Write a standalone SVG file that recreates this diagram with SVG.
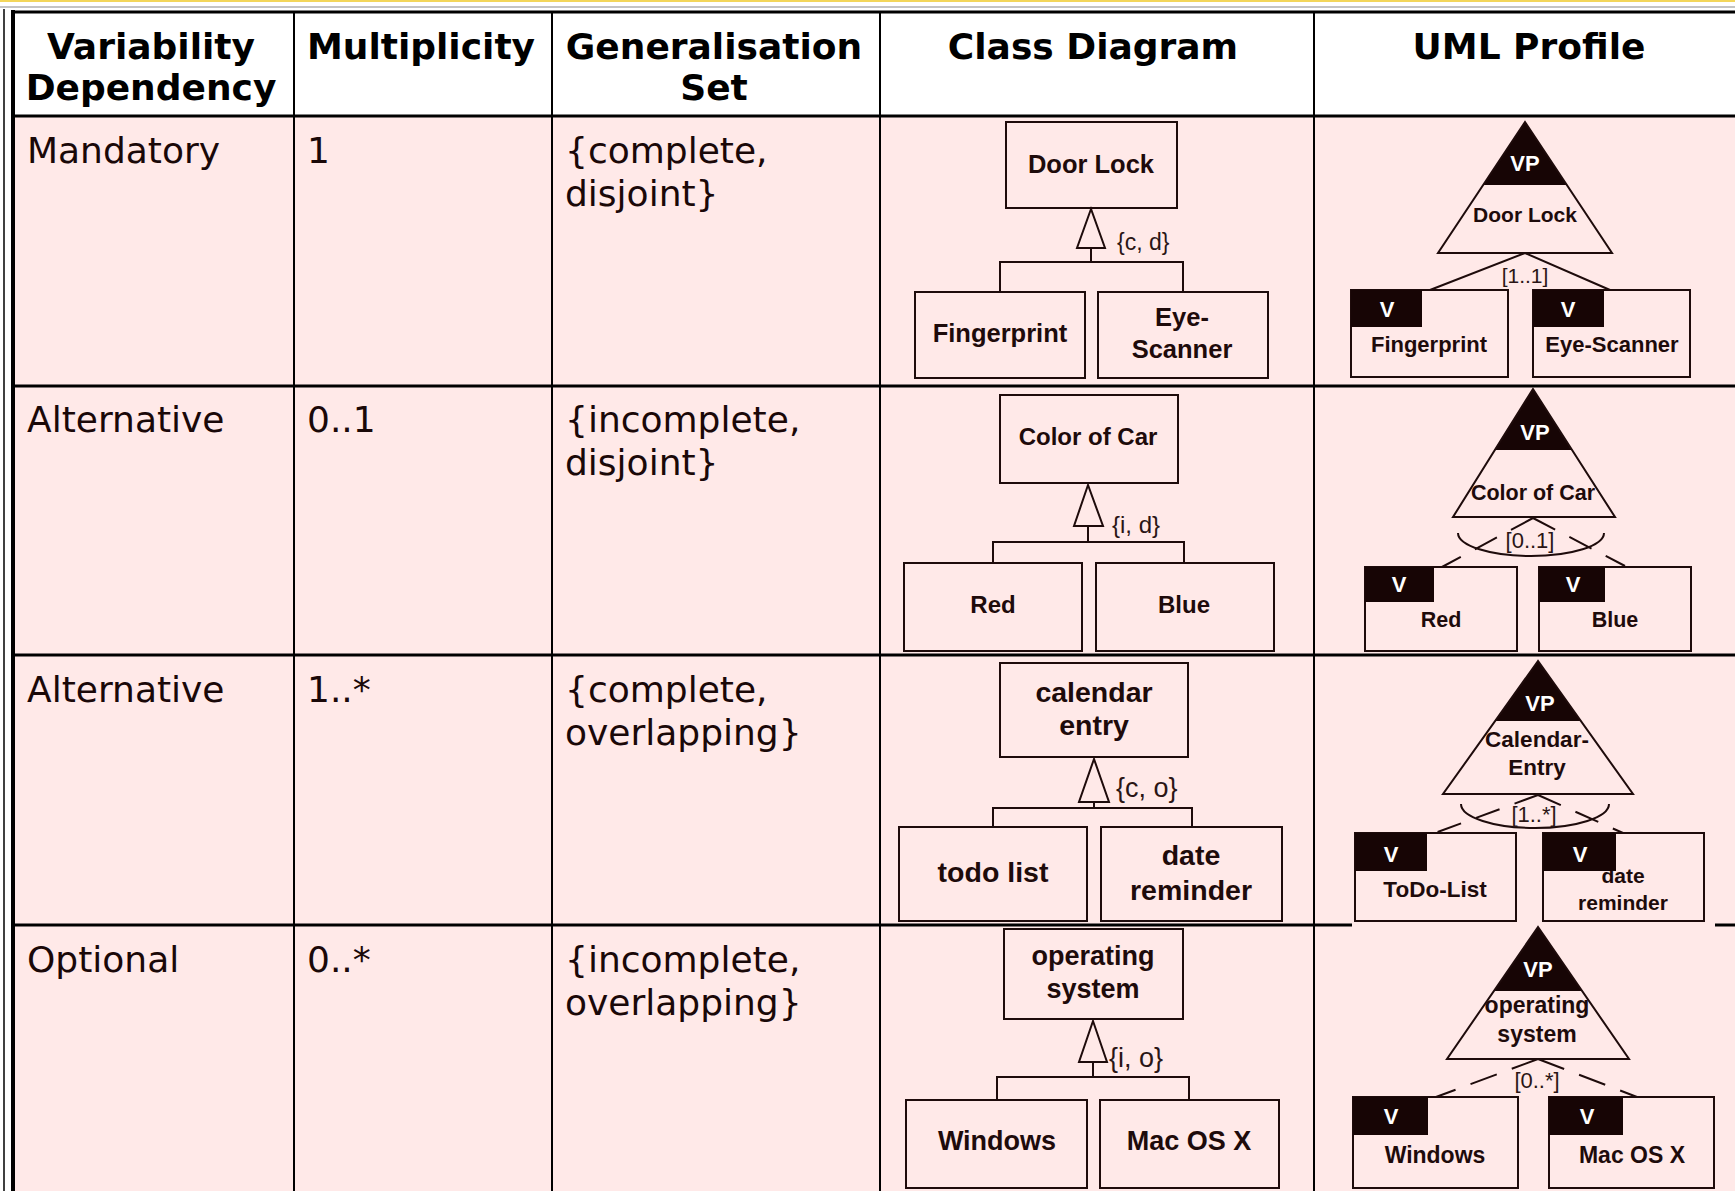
<svg xmlns="http://www.w3.org/2000/svg" width="1735" height="1191" viewBox="0 0 1735 1191">
  <style>
    .hd { font-family: "DejaVu Sans", Verdana, sans-serif; font-weight: bold; font-size: 36px; fill: #000; text-anchor: middle; }
    .bd { font-family: "DejaVu Sans", Verdana, sans-serif; font-size: 36px; fill: #1a0808; }
    .grid { stroke: #000; fill: none; }
    .box { fill: none; stroke: #1e0b0b; stroke-width: 2; }
    .ln { fill: none; stroke: #1e0b0b; stroke-width: 2; }
    .dash { fill: none; stroke: #1e0b0b; stroke-width: 2; stroke-dasharray: 25 16; }
    .cls { font-family: "Liberation Sans", Arial, sans-serif; font-weight: bold; fill: #1e0b0b; text-anchor: middle; }
    .lbl { font-family: "Liberation Sans", Arial, sans-serif; fill: #2a1515; }
    .tab { fill: #170505; }
    .wt { font-family: "Liberation Sans", Arial, sans-serif; font-weight: bold; fill: #fff; text-anchor: middle; font-size: 22px; }
  </style>

  <!-- page background and table cells -->
  <rect x="0" y="0" width="1735" height="1191" fill="#fff"/>
  <rect x="0" y="0" width="1735" height="2" fill="#f3d65a"/>
  <line x1="0" y1="7" x2="1735" y2="7" stroke="#b0b0b0" stroke-width="1.5"/>
  <rect x="15" y="13" width="1720" height="103" fill="#fff"/>
  <rect x="15" y="116" width="1720" height="1075" fill="#ffe9e8"/>

  <!-- table grid -->
  <g id="grid" class="grid">
    <line x1="4" y1="9" x2="4" y2="1191" stroke-width="1.5"/>
    <line x1="13" y1="10" x2="13" y2="1191" stroke-width="4"/>
    <line x1="11" y1="12" x2="1735" y2="12" stroke-width="3"/>
    <line x1="13" y1="116" x2="1735" y2="116" stroke-width="3"/>
    <line x1="13" y1="386" x2="1735" y2="386" stroke-width="3"/>
    <line x1="13" y1="655" x2="1735" y2="655" stroke-width="3"/>
    <line x1="13" y1="925" x2="1352" y2="925" stroke-width="3"/>
    <line x1="1715" y1="925" x2="1735" y2="925" stroke-width="3"/>
    <line x1="294" y1="12" x2="294" y2="1191" stroke-width="2"/>
    <line x1="552" y1="12" x2="552" y2="1191" stroke-width="2"/>
    <line x1="880" y1="12" x2="880" y2="1191" stroke-width="2"/>
    <line x1="1314" y1="12" x2="1314" y2="1191" stroke-width="2"/>
  </g>

  <!-- column headings -->
  <g id="headings">
    <text class="hd" x="151" y="59">Variability</text>
    <text class="hd" x="151" y="100">Dependency</text>
    <text class="hd" x="421" y="59">Multiplicity</text>
    <text class="hd" x="714" y="59">Generalisation</text>
    <text class="hd" x="714" y="100">Set</text>
    <text class="hd" x="1093" y="59">Class Diagram</text>
    <text class="hd" x="1529" y="59">UML Profile</text>
  </g>

  <!-- textual columns -->
  <g id="row-text">
    <text class="bd" x="27" y="163">Mandatory</text>
    <text class="bd" x="307" y="163">1</text>
    <text class="bd" x="565" y="163">{complete,</text>
    <text class="bd" x="565" y="206">disjoint}</text>

    <text class="bd" x="27" y="432">Alternative</text>
    <text class="bd" x="307" y="432">0..1</text>
    <text class="bd" x="565" y="432">{incomplete,</text>
    <text class="bd" x="565" y="475">disjoint}</text>

    <text class="bd" x="27" y="702">Alternative</text>
    <text class="bd" x="307" y="702">1..*</text>
    <text class="bd" x="565" y="702">{complete,</text>
    <text class="bd" x="565" y="745">overlapping}</text>

    <text class="bd" x="27" y="972">Optional</text>
    <text class="bd" x="307" y="972">0..*</text>
    <text class="bd" x="565" y="972">{incomplete,</text>
    <text class="bd" x="565" y="1015">overlapping}</text>
  </g>

  <!-- generalisation and variation connectors -->
  <g id="connectors">
    <!-- Door Lock generalisation -->
    <path class="ln" d="M1091,248 V262 M1000,292 V262 H1183 V292"/>
    <polygon class="ln" points="1091,209 1077,248 1105,248" fill="#ffe9e8"/>
    <text class="lbl" x="1117" y="250" font-size="23">{c, d}</text>
    <!-- Color of Car generalisation -->
    <path class="ln" d="M1088,526 V542 M993,563 V542 H1184 V563"/>
    <polygon class="ln" points="1088,485 1074,526 1103,526" fill="#ffe9e8"/>
    <text class="lbl" x="1112" y="533" font-size="24">{i, d}</text>
    <!-- calendar entry generalisation -->
    <path class="ln" d="M1094,802 V808 M993,827 V808 H1192 V827"/>
    <polygon class="ln" points="1094,759 1079,802 1109,802" fill="#ffe9e8"/>
    <text class="lbl" x="1116" y="797" font-size="27">{c, o}</text>
    <!-- operating system generalisation -->
    <path class="ln" d="M1093,1062 V1077 M997,1100 V1077 H1189 V1100"/>
    <polygon class="ln" points="1093,1021 1079,1062 1107,1062" fill="#ffe9e8"/>
    <text class="lbl" x="1109" y="1067" font-size="27">{i, o}</text>

    <!-- mandatory variants -->
    <path class="ln" d="M1430,290 L1525,253 L1610,290"/>
    <text class="lbl" x="1525" y="283" font-size="21" text-anchor="middle">[1..1]</text>
    <!-- alternative [0..1] -->
    <path class="dash" d="M1533,518 L1442,567"/>
    <path class="dash" d="M1533,518 L1625,566"/>
    <path class="ln" d="M1458,533 A73,23 0 0 0 1604,533"/>
    <text class="lbl" x="1530" y="548" font-size="22" text-anchor="middle">[0..1]</text>
    <!-- alternative [1..*] -->
    <path class="dash" d="M1538,795 L1435,833"/>
    <path class="dash" d="M1538,795 L1623,833"/>
    <path class="ln" d="M1461,804 A74,24 0 0 0 1609,804"/>
    <text class="lbl" x="1534" y="822" font-size="22" text-anchor="middle">[1..*]</text>
    <!-- optional [0..*] -->
    <path class="dash" style="stroke-dasharray:28 16" d="M1538,1059 L1436,1097"/>
    <path class="dash" style="stroke-dasharray:28 16" d="M1538,1059 L1637,1097"/>
    <text class="lbl" x="1537" y="1088" font-size="22" text-anchor="middle">[0..*]</text>
  </g>

  <!-- class diagram nodes -->
  <g id="cd-door-lock"><rect class="box" x="1006" y="122" width="171" height="86"/><text class="cls" x="1091" y="173" font-size="25.5">Door Lock</text></g>
  <g id="cd-fingerprint"><rect class="box" x="915" y="292" width="170" height="86"/><text class="cls" x="1000" y="342" font-size="25.5">Fingerprint</text></g>
  <g id="cd-eye-scanner"><rect class="box" x="1098" y="292" width="170" height="86"/><text class="cls" x="1182" y="326" font-size="25.5">Eye-</text><text class="cls" x="1182" y="358" font-size="25.5">Scanner</text></g>

  <g id="cd-color-of-car"><rect class="box" x="1000" y="395" width="178" height="88"/><text class="cls" x="1088" y="445" font-size="24">Color of Car</text></g>
  <g id="cd-red"><rect class="box" x="904" y="563" width="178" height="88"/><text class="cls" x="993" y="613" font-size="24">Red</text></g>
  <g id="cd-blue"><rect class="box" x="1096" y="563" width="178" height="88"/><text class="cls" x="1184" y="613" font-size="24">Blue</text></g>

  <g id="cd-calendar-entry"><rect class="box" x="1000" y="663" width="188" height="94"/><text class="cls" x="1094" y="702" font-size="28.5">calendar</text><text class="cls" x="1094" y="735" font-size="28.5">entry</text></g>
  <g id="cd-todo-list"><rect class="box" x="899" y="827" width="188" height="94"/><text class="cls" x="993" y="882" font-size="28.5">todo list</text></g>
  <g id="cd-date-reminder"><rect class="box" x="1101" y="827" width="181" height="94"/><text class="cls" x="1191" y="865" font-size="28.5">date</text><text class="cls" x="1191" y="900" font-size="28.5">reminder</text></g>

  <g id="cd-operating-system"><rect class="box" x="1004" y="929" width="179" height="90"/><text class="cls" x="1093" y="965" font-size="27">operating</text><text class="cls" x="1093" y="998" font-size="27">system</text></g>
  <g id="cd-windows"><rect class="box" x="906" y="1100" width="181" height="88"/><text class="cls" x="997" y="1150" font-size="27">Windows</text></g>
  <g id="cd-mac-os-x"><rect class="box" x="1100" y="1100" width="179" height="88"/><text class="cls" x="1189" y="1150" font-size="27">Mac OS X</text></g>

  <!-- UML profile: variation points -->
  <g id="vp-door-lock">
    <polygon class="tab" points="1525,122 1483,185 1567,185"/>
    <polygon class="ln" points="1525,122 1438,253 1612,253"/>
    <text class="wt" x="1525" y="171">VP</text>
    <text class="cls" x="1525" y="222" font-size="21">Door Lock</text>
  </g>
  <g id="vp-color-of-car">
    <polygon class="tab" points="1533,389 1494.4,450 1571.6,450"/>
    <polygon class="ln" points="1533,389 1453,517 1615,517"/>
    <text class="wt" x="1535" y="440">VP</text>
    <text class="cls" x="1533" y="500" font-size="21.5">Color of Car</text>
  </g>
  <g id="vp-calendar-entry">
    <polygon class="tab" points="1538,661 1495.1,721 1580.9,721"/>
    <polygon class="ln" points="1538,661 1443,794 1633,794"/>
    <text class="wt" x="1540" y="711">VP</text>
    <text class="cls" x="1537" y="747" font-size="22.5">Calendar-</text>
    <text class="cls" x="1537" y="775" font-size="22.5">Entry</text>
  </g>
  <g id="vp-operating-system">
    <polygon class="tab" points="1538,927 1493.9,991 1582.1,991"/>
    <polygon class="ln" points="1538,927 1447,1059 1629,1059"/>
    <text class="wt" x="1538" y="977">VP</text>
    <text class="cls" x="1537" y="1013" font-size="23">operating</text>
    <text class="cls" x="1537" y="1042" font-size="23">system</text>
  </g>

  <!-- UML profile: variants -->
  <g id="v-fingerprint"><rect class="box" x="1351" y="290" width="157" height="87"/><rect class="tab" x="1351" y="290" width="71" height="37"/><text class="wt" x="1387" y="317">V</text><text class="cls" x="1429" y="352" font-size="22">Fingerprint</text></g>
  <g id="v-eye-scanner"><rect class="box" x="1533" y="290" width="157" height="87"/><rect class="tab" x="1533" y="290" width="71" height="37"/><text class="wt" x="1568" y="317">V</text><text class="cls" x="1612" y="352" font-size="22">Eye-Scanner</text></g>

  <g id="v-red"><rect class="box" x="1365" y="567" width="152" height="84"/><rect class="tab" x="1365" y="567" width="69" height="35"/><text class="wt" x="1399" y="592">V</text><text class="cls" x="1441" y="627" font-size="21.5">Red</text></g>
  <g id="v-blue"><rect class="box" x="1539" y="567" width="152" height="84"/><rect class="tab" x="1539" y="567" width="66" height="35"/><text class="wt" x="1573" y="592">V</text><text class="cls" x="1615" y="627" font-size="21.5">Blue</text></g>

  <g id="v-todo-list"><rect class="box" x="1355" y="833" width="161" height="88"/><rect class="tab" x="1355" y="833" width="72" height="38"/><text class="wt" x="1391" y="862">V</text><text class="cls" x="1435" y="897" font-size="22.5">ToDo-List</text></g>
  <g id="v-date-reminder"><rect class="box" x="1543" y="833" width="161" height="88"/><text class="cls" x="1623" y="883" font-size="21">date</text><text class="cls" x="1623" y="910" font-size="21">reminder</text><rect class="tab" x="1543" y="833" width="73" height="38"/><text class="wt" x="1580" y="862">V</text></g>

  <g id="v-windows"><rect class="box" x="1353" y="1097" width="165" height="91"/><rect class="tab" x="1353" y="1097" width="75" height="38"/><text class="wt" x="1391" y="1124">V</text><text class="cls" x="1435" y="1163" font-size="23">Windows</text></g>
  <g id="v-mac-os-x"><rect class="box" x="1549" y="1097" width="165" height="91"/><rect class="tab" x="1549" y="1097" width="74" height="38"/><text class="wt" x="1587" y="1124">V</text><text class="cls" x="1632" y="1163" font-size="23">Mac OS X</text></g>
</svg>
